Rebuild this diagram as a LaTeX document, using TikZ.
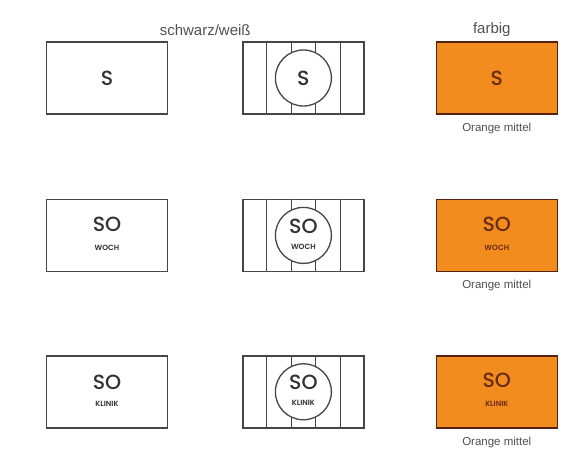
\documentclass[tikz,border=0pt]{standalone}
\usepackage{fontspec}
\setmainfont{Liberation Sans}
\newfontfamily\signfont{Poppins}[UprightFont={* Medium}, BoldFont={* SemiBold}]
\usepackage{tikz}
\usetikzlibrary{positioning, calc}
\definecolor{signorange}{RGB}{243,140,30}
\definecolor{signbrown}{RGB}{104,44,20}
\definecolor{framegray}{RGB}{70,70,70}
\definecolor{inkgray}{RGB}{50,50,50}
\definecolor{labelgray}{RGB}{80,80,80}
\tikzset{
	sign_bw/.style={rectangle, draw=framegray, fill=white, line width=1.4pt, minimum width=121pt, minimum height=72pt, inner sep=0pt},
	sign_or/.style={sign_bw, draw=signbrown!80!black, fill=signorange},
	strip_line/.style={draw=framegray, line width=1.1pt},
	disc/.style={circle, draw=framegray, fill=white, line width=1.3pt, minimum size=56pt, inner sep=0pt},
	txt_big/.style={font=\signfont\fontsize{20.5}{21}\selectfont, inner sep=0pt, text=inkgray},
	txt_small/.style={font=\signfont\bfseries\fontsize{7.5}{8}\selectfont, inner sep=0pt, text=inkgray},
	caption_txt/.style={font=\fontsize{11.5}{12}\selectfont, text=labelgray, inner sep=0pt},
	header_txt/.style={font=\fontsize{15}{15}\selectfont, text=labelgray, inner sep=0pt}
}

\begin{document}
\begin{tikzpicture}[x=1pt, y=-1pt, node distance=74pt]
	\useasboundingbox (0,0) rectangle (576,457);
	% Reihe 1: S
	\node[sign_bw] (s_bw) at (107,78) {};
	\node[sign_bw, right=74pt of s_bw] (s_strip) {};
	\node[sign_or, right=71pt of s_strip] (s_or) {};
	\foreach \f in {1,...,4}
		\draw[strip_line] ($(s_strip.north west)!\f/5!(s_strip.north east)$) -- ($(s_strip.south west)!\f/5!(s_strip.south east)$);
	\node[disc] (s_disc) at (s_strip.center) {};
	\node[txt_big] (s_bw_t) at (s_bw.center) {S};
	\node[txt_big] (s_disc_t) at (s_disc.center) {S};
	\node[txt_big, text=signbrown] (s_or_t) at (s_or.center) {S};
	\node[caption_txt, below=8pt of s_or] (s_cap) {Orange mittel};

	% Reihe 2: SO WOCH
	\node[sign_bw, below=84pt of s_bw] (w_bw) {};
	\node[sign_bw, below=84pt of s_strip] (w_strip) {};
	\node[sign_or, below=84pt of s_or] (w_or) {};
	\foreach \f in {1,...,4}
		\draw[strip_line] ($(w_strip.north west)!\f/5!(w_strip.north east)$) -- ($(w_strip.south west)!\f/5!(w_strip.south east)$);
	\node[disc] (w_disc) at (w_strip.center) {};
	\node[txt_big] (w_bw_t) at ([yshift=11pt]w_bw.center) {SO};
	\node[txt_small] (w_bw_s) at ([yshift=-12pt]w_bw.center) {WOCH};
	\node[txt_big] (w_disc_t) at ([yshift=9pt]w_disc.center) {SO};
	\node[txt_small] (w_disc_s) at ([yshift=-11pt]w_disc.center) {WOCH};
	\node[txt_big, text=signbrown] (w_or_t) at ([yshift=11pt]w_or.center) {SO};
	\node[txt_small, text=signbrown] (w_or_s) at ([yshift=-12pt]w_or.center) {WOCH};
	\node[caption_txt, below=8pt of w_or] (w_cap) {Orange mittel};

	% Reihe 3: SO KLINIK
	\node[sign_bw, below=83pt of w_bw] (k_bw) {};
	\node[sign_bw, below=83pt of w_strip] (k_strip) {};
	\node[sign_or, below=83pt of w_or] (k_or) {};
	\foreach \f in {1,...,4}
		\draw[strip_line] ($(k_strip.north west)!\f/5!(k_strip.north east)$) -- ($(k_strip.south west)!\f/5!(k_strip.south east)$);
	\node[disc] (k_disc) at (k_strip.center) {};
	\node[txt_big] (k_bw_t) at ([yshift=9pt]k_bw.center) {SO};
	\node[txt_small] (k_bw_s) at ([yshift=-12pt]k_bw.center) {KLINIK};
	\node[txt_big] (k_disc_t) at ([yshift=9pt]k_disc.center) {SO};
	\node[txt_small] (k_disc_s) at ([yshift=-11pt]k_disc.center) {KLINIK};
	\node[txt_big, text=signbrown] (k_or_t) at ([yshift=11pt]k_or.center) {SO};
	\node[txt_small, text=signbrown] (k_or_s) at ([yshift=-12pt]k_or.center) {KLINIK};
	\node[caption_txt, below=8pt of k_or] (k_cap) {Orange mittel};

	% Spaltenkoepfe
	\node[header_txt, anchor=south, yshift=5pt] (hd_bw) at ($(s_bw.north east)!0.5!(s_strip.north west)$) {schwarz/weiß};
	\node[header_txt, above=4pt of s_or, xshift=-5pt] (hd_col) {farbig};
\end{tikzpicture}
\end{document}
